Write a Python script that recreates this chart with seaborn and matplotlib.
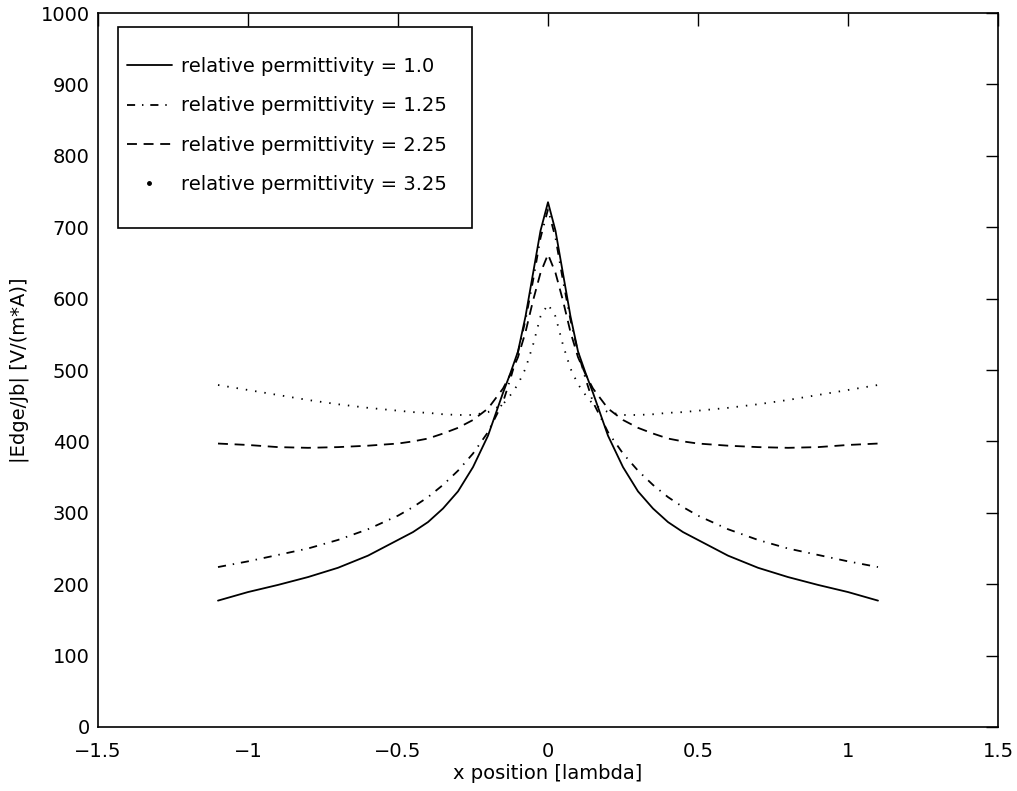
import numpy as np
import pandas as pd
import matplotlib
matplotlib.use("Agg")
import matplotlib.pyplot as plt
from matplotlib.lines import Line2D
from matplotlib.patches import Rectangle
import seaborn as sns

# ---- data ----
x_pos = [-1.1, -1.0, -0.9, -0.8, -0.7, -0.6, -0.5, -0.45, -0.4, -0.35, -0.3, -0.25, -0.2, -0.15, -0.125, -0.1,
         -0.075, -0.05, -0.025, 0.0, 0.025, 0.05, 0.075,
         0.1, 0.125, 0.15, 0.2, 0.25, 0.3, 0.35, 0.4, 0.45, 0.5, 0.6, 0.7, 0.8, 0.9, 1.0, 1.1]
eps_1_00 = [177, 189, 199, 210, 223, 240, 262, 273, 287, 306, 330, 364, 408, 468, 496, 526,
            575, 635, 695, 735, 695, 635, 575,
            526, 496, 468, 408, 364, 330, 306, 287, 273, 262, 240, 223, 210, 199, 189, 177]
eps_1_25 = [224, 232, 241, 250, 262, 277, 296, 308, 322, 339, 359, 383, 413, 455, 488, 525,
            570, 625, 685, 725, 685, 625, 570,
            525, 488, 455, 413, 383, 359, 339, 322, 308, 296, 277, 262, 250, 241, 232, 224]
eps_2_25 = [397, 395, 392, 391, 392, 394, 397, 400, 404, 411, 419, 430, 446, 474, 494, 518,
            553, 597, 636, 662, 636, 597, 553,
            518, 494, 474, 446, 430, 419, 411, 404, 400, 397, 394, 392, 391, 392, 395, 397]
eps_3_25 = [479, 472, 465, 458, 452, 447, 443, 441, 440, 438, 437, 437, 441, 452, 465, 480,
            502, 535, 575, 592, 575, 535, 502,
            480, 465, 452, 441, 437, 437, 438, 440, 441, 443, 447, 452, 458, 465, 472, 479]
labels = ["relative permittivity = 1.0", "relative permittivity = 1.25",
          "relative permittivity = 2.25", "relative permittivity = 3.25"]
x_ticks = [-1.5, -1, -0.5, 0, 0.5, 1, 1.5]
x_tick_labels = ["\u22121.5", "\u22121", "\u22120.5", "0", "0.5", "1", "1.5"]
y_ticks = [0, 100, 200, 300, 400, 500, 600, 700, 800, 900, 1000]

sns.set_style("white")
plt.rcParams["font.family"] = ["DejaVu Sans"]
plt.rcParams["font.size"] = 14
plt.rcParams["text.color"] = "black"
plt.rcParams["axes.labelcolor"] = "black"

W, H = 1017, 791
fig = plt.figure(figsize=(W / 100, H / 100), dpi=100)
L, R, T, B = 98, 998, 13, 727
ax = fig.add_axes([L / W, (H - B) / H, (R - L) / W, (B - T) / H])

LW = 1.3
ls_solid = "-"
ls_dashdot = (0, (4.5, 3.8, 0.8, 3.8))
ls_dashed = (0, (5.5, 3.7))
ls_dotted = (0, (0.8, 4.4))
styles = [ls_solid, ls_dashdot, ls_dashed, ls_dotted]
series = [eps_1_00, eps_1_25, eps_2_25, eps_3_25]
for vals, ls in zip(series, styles):
    df = pd.DataFrame({"x": x_pos, "y": vals})
    sns.lineplot(data=df, x="x", y="y", ax=ax, color="black", sort=False,
                 linestyle=ls, linewidth=LW)

ax.set_xlim(-1.5, 1.5)
ax.set_ylim(0, 1000)
ax.set_xticks(x_ticks)
ax.set_xticklabels(x_tick_labels)
ax.set_yticks(y_ticks)
ax.tick_params(direction="in", length=9, width=1.0, top=True, right=True,
               labelsize=14, colors="black")
ax.tick_params(axis="y", pad=6)
ax.tick_params(axis="x", pad=11)
for sp in ax.spines.values():
    sp.set_visible(True)
    sp.set_color("black")
    sp.set_linewidth(1.2)
ax.set_xlabel("x position [lambda]", fontsize=14, labelpad=2)
ax.set_ylabel("|Edge/Jb| [V/(m*A)]", fontsize=14, labelpad=8)

# legend
handles = [
    Line2D([], [], color="black", linestyle=ls_solid, lw=LW),
    Line2D([], [], color="black", linestyle=ls_dashdot, lw=LW),
    Line2D([], [], color="black", linestyle=ls_dashed, lw=LW),
    Line2D([], [], color="black", linestyle="none", marker=".", markersize=5),
]

def ax_xy(px, py):
    return ((px - L) / (R - L), (B - py) / (B - T))

leg = ax.legend(handles, labels, loc="upper left", bbox_to_anchor=ax_xy(127, 57),
                frameon=False, borderpad=0, borderaxespad=0, handlelength=2.3,
                handletextpad=0.5, labelspacing=1.05, fontsize=14, numpoints=1,
                labelcolor="black")
x0, y0 = ax_xy(118, 228)
x1, y1 = ax_xy(472, 27)
ax.add_patch(Rectangle((x0, y0), x1 - x0, y1 - y0, transform=ax.transAxes,
                       fill=True, facecolor="white", edgecolor="black", lw=1.2, zorder=4))
leg.set_zorder(5)

fig.savefig("out.png", dpi=100)
